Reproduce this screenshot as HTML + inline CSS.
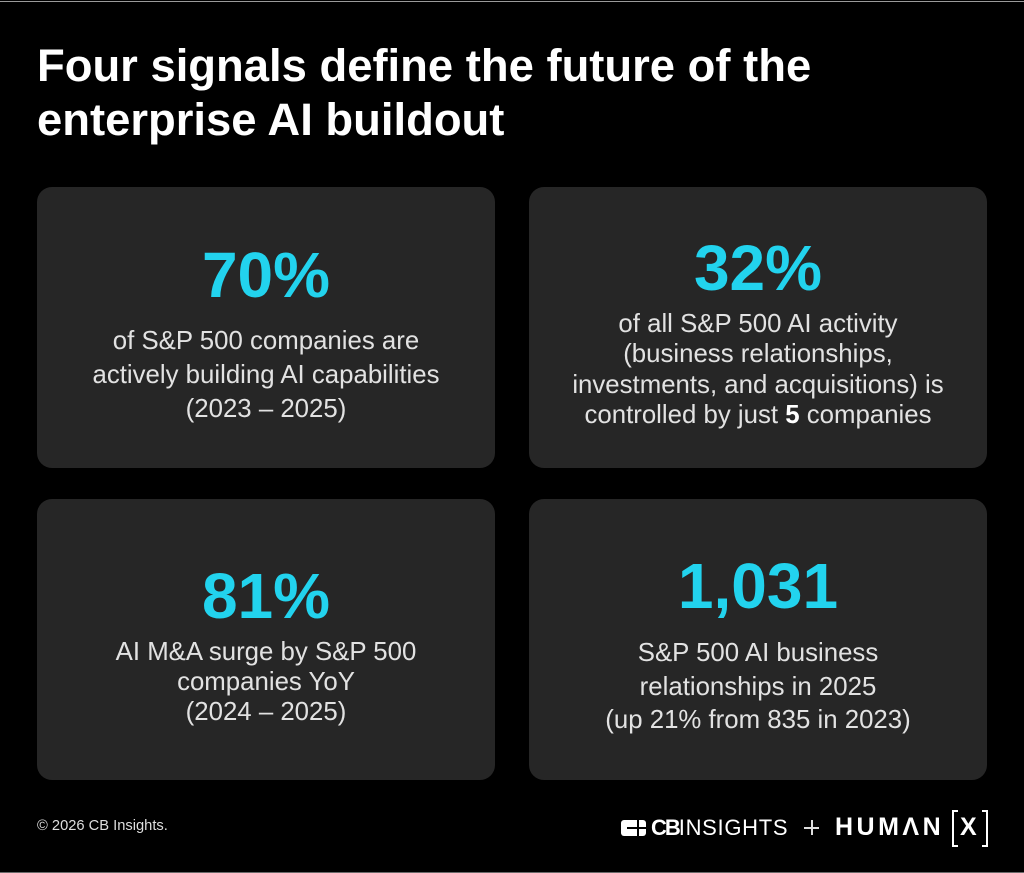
<!DOCTYPE html>
<html>
<head>
<meta charset="utf-8">
<style>
  html, body { margin:0; padding:0; }
  body { width:1024px; height:873px; background:#000; position:relative; overflow:hidden;
         font-family:"Liberation Sans", Arial, sans-serif; }
  .abs { position:absolute; }
  .title { left:37px; top:39px; width:980px; color:#fff; font-weight:700; font-size:45.4px; line-height:54px; white-space:nowrap; }
  .card { position:absolute; background:#262626; border-radius:15px; width:458px; height:281px; }
  .num { position:absolute; left:0; width:100%; text-align:center; color:#22d3ee; font-weight:700; font-size:64px; line-height:64px; white-space:nowrap; }
  .txt { position:absolute; left:0; width:100%; text-align:center; color:#e2e2e2; font-size:25.8px; white-space:nowrap; }
  .txt b { color:#fff; font-weight:700; }
</style>
</head>
<body>
  <div class="abs" style="left:0;top:1px;width:1024px;height:1px;background:#9a9a9a;"></div>
  <div class="abs" style="left:0;top:872px;width:1024px;height:1px;background:#6a6a6a;"></div>

  <div class="abs title">Four signals define the future of the<br>enterprise AI buildout</div>

  <!-- Card 1 -->
  <div class="card" style="left:37px;top:187px;">
    <div class="num" style="top:56px;">70%</div>
    <div class="txt" style="top:137px;line-height:34px;">of S&amp;P 500 companies are<br>actively building AI capabilities<br>(2023 – 2025)</div>
  </div>

  <!-- Card 2 -->
  <div class="card" style="left:529px;top:187px;">
    <div class="num" style="top:49px;">32%</div>
    <div class="txt" style="top:122px;line-height:30.3px;">of all S&amp;P 500 AI activity<br>(business relationships,<br>investments, and acquisitions) is<br>controlled by just <b>5</b> companies</div>
  </div>

  <!-- Card 3 -->
  <div class="card" style="left:37px;top:499px;">
    <div class="num" style="top:65px;">81%</div>
    <div class="txt" style="top:138px;line-height:30px;">AI M&amp;A surge by S&amp;P 500<br>companies YoY<br>(2024 – 2025)</div>
  </div>

  <!-- Card 4 -->
  <div class="card" style="left:529px;top:499px;">
    <div class="num" style="top:55px;">1,031</div>
    <div class="txt" style="top:138px;line-height:33.5px;">S&amp;P 500 AI business<br>relationships in 2025<br>(up 21% from 835 in 2023)</div>
  </div>

  <!-- Footer -->
  <div class="abs" style="left:37px;top:819px;color:#dedede;font-size:14.7px;line-height:15px;white-space:nowrap;">© 2026 CB Insights.</div>

  <!-- CB Insights logo -->
  <div class="abs" style="left:621px;top:820px;width:25px;height:16px;background:#fff;border-radius:3px;"></div>
  <div class="abs" style="left:637px;top:820px;width:2px;height:16px;background:#000;"></div>
  <div class="abs" style="left:627px;top:827px;width:19px;height:2px;background:#000;"></div>
  <div class="abs" style="left:651px;top:815px;color:#fff;font-size:22px;line-height:26px;white-space:nowrap;"><span style="font-weight:700;letter-spacing:-2px;">CB</span><span style="letter-spacing:0.7px;">INSIGHTS</span></div>

  <!-- plus -->
  <div class="abs" style="left:804px;top:827px;width:15px;height:1.5px;background:#ddd;"></div>
  <div class="abs" style="left:811px;top:820px;width:1.5px;height:15px;background:#ddd;"></div>

  <!-- HUMAN[X] -->
  <div class="abs" style="left:835px;top:813px;color:#fff;font-weight:700;font-size:25px;line-height:28px;letter-spacing:3.5px;white-space:nowrap;">HUMΛN</div>
  <div class="abs" style="left:952px;top:810px;width:4px;height:33px;border:2.5px solid #fff;border-right:none;"></div>
  <div class="abs" style="left:960px;top:813px;color:#fff;font-weight:700;font-size:25px;line-height:28px;">X</div>
  <div class="abs" style="left:982px;top:810px;width:4px;height:33px;border:2.5px solid #fff;border-left:none;"></div>
</body>
</html>
